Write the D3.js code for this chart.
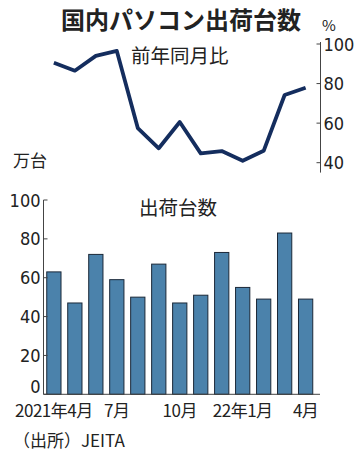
<!DOCTYPE html>
<html>
<head>
<meta charset="utf-8">
<script src="https://cdn.jsdelivr.net/npm/d3@7"></script>
<style>
  body { margin: 0; background: #fff; }
  text { font-family: "Noto Sans CJK JP", sans-serif; fill: #222; }
  .num { font-family: "Liberation Sans Narrow", "DejaVu Sans Condensed", sans-serif; font-stretch: condensed; }
</style>
</head>
<body>
<svg width="362" height="459"></svg>
<script>
// months, 2021/4 .. 2022/4
const months = ['2021/4', '2021/5', '2021/6', '2021/7', '2021/8', '2021/9', '2021/10',
  '2021/11', '2021/12', '2022/1', '2022/2', '2022/3', '2022/4'];
// 出荷台数 (万台)
const shipments = [63, 47, 72, 59, 50, 67, 47, 51, 73, 55, 49, 83, 49];
// 前年同月比 (%)
const yoy = [90.5, 86.5, 94, 96.5, 57.5, 47.3, 60.6, 44.7, 45.9, 41, 46, 74.2, 77.9];
const xLabels = {'2021/4': '2021年4月', '2021/7': '7月', '2021/10': '10月', '2022/1': '22年1月', '2022/4': '4月'};
const barTicks = [0, 20, 40, 60, 80, 100];
const yoyTicks = [40, 60, 80, 100];

const svg = d3.select('svg');

svg.append('text')
  .attr('x', 181).attr('y', 29)
  .attr('text-anchor', 'middle')
  .style('font-size', '24px').style('font-weight', 'bold')
  .text('国内パソコン出荷台数');

// band scale shared by both panels
const x = d3.scaleBand().domain(months).range([41.5, 318]).paddingInner(0.32).paddingOuter(0.25);

// ---- top: year-on-year line ----
const yTop = d3.scaleLinear().domain([40, 100]).range([162.7, 44]);

const topAxis = svg.append('g')
  .attr('transform', 'translate(320.5,0)');
topAxis.append('line')
  .attr('y1', yTop(101)).attr('y2', yTop(35))
  .attr('stroke', '#444').attr('stroke-width', 1);
topAxis.selectAll('line.tick')
  .data(yoyTicks)
  .enter()
  .append('line')
  .attr('class', 'tick')
  .attr('x1', -4).attr('x2', 0)
  .attr('y1', d => yTop(d)).attr('y2', d => yTop(d))
  .attr('stroke', '#444');
topAxis.selectAll('text')
  .data(yoyTicks)
  .enter()
  .append('text')
  .attr('class', 'num')
  .attr('x', 3)
  .attr('y', d => yTop(d) + 6.5)
  .style('font-size', '18px')
  .text(d => d);

svg.append('text').attr('x', 322).attr('y', 31).style('font-size', '15px').text('%');
svg.append('text').attr('x', 131).attr('y', 63).style('font-size', '19.5px').text('前年同月比');
svg.append('text').attr('x', 13).attr('y', 167).style('font-size', '17px').text('万台');

const line = d3.line()
  .x((d, i) => x(months[i]) + x.bandwidth() / 2)
  .y(d => yTop(d));

svg.append('path')
  .datum(yoy)
  .attr('d', line)
  .attr('fill', 'none')
  .attr('stroke', '#142d5e')
  .attr('stroke-width', 3.8)
  .attr('stroke-linejoin', 'round');

// ---- bottom: shipments bars ----
const yBar = d3.scaleLinear().domain([0, 100]).range([394.3, 200]);

svg.append('g')
  .selectAll('rect')
  .data(shipments)
  .enter()
  .append('rect')
  .attr('x', (d, i) => x(months[i]))
  .attr('width', x.bandwidth())
  .attr('y', d => yBar(d))
  .attr('height', d => yBar(0) - yBar(d))
  .attr('fill', '#4b82ab')
  .attr('stroke', '#1b2838')
  .attr('stroke-width', 1);

const leftAxis = svg.append('g').attr('transform', 'translate(43.5,0)');
leftAxis.append('line')
  .attr('y1', yBar(100)).attr('y2', yBar(0))
  .attr('stroke', '#444');
leftAxis.selectAll('line.tick')
  .data(barTicks)
  .enter()
  .append('line')
  .attr('class', 'tick')
  .attr('x1', 0).attr('x2', 4)
  .attr('y1', d => yBar(d)).attr('y2', d => yBar(d))
  .attr('stroke', '#444');
leftAxis.selectAll('text')
  .data(barTicks)
  .enter()
  .append('text')
  .attr('class', 'num')
  .attr('x', -3)
  .attr('y', d => d === 0 ? yBar(d) - 1 : yBar(d) + 6.5)
  .attr('text-anchor', 'end')
  .style('font-size', '18px')
  .text(d => d);

svg.append('line')
  .attr('x1', 43.5).attr('x2', 320)
  .attr('y1', yBar(0)).attr('y2', yBar(0))
  .attr('stroke', '#444');

svg.append('g')
  .selectAll('text')
  .data(months.filter(m => xLabels[m]))
  .enter()
  .append('text')
  .attr('x', d => x(d) + x.bandwidth() / 2)
  .attr('y', 417)
  .attr('text-anchor', 'middle')
  .style('font-size', '17px')
  .style('letter-spacing', '-0.5px')
  .text(d => xLabels[d]);

svg.append('text').attr('x', 139).attr('y', 215).style('font-size', '19.5px').text('出荷台数');
svg.append('text').attr('x', 13).attr('y', 447).style('font-size', '17px').text('（出所）JEITA');
</script>
</body>
</html>
